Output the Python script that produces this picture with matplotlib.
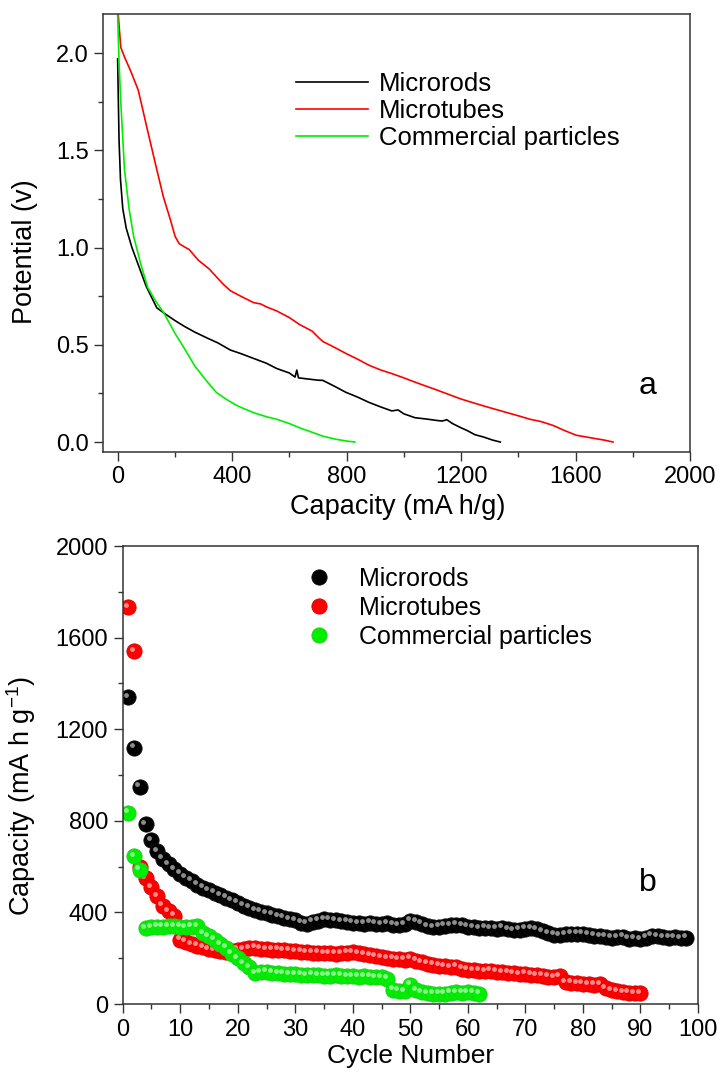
import matplotlib
matplotlib.use("Agg")
import matplotlib.pyplot as plt
import matplotlib.transforms as mtransforms
from matplotlib.ticker import MultipleLocator

plt.rcParams['font.family'] = ['Liberation Sans', 'DejaVu Sans']
plt.rcParams['mathtext.fontset'] = 'custom'
plt.rcParams['mathtext.rm'] = 'Liberation Sans'

# ---- panel a : discharge curves ----
rods_cap = [0, 2, 5, 10, 18, 30, 50, 75, 100, 137, 169, 200, 233, 270, 314, 350, 394, 430,
            475, 520, 556, 600, 620, 626, 632, 660, 700, 717, 760, 797, 840, 878, 920, 958,
            980, 1000, 1039, 1080, 1120, 1135, 1150, 1170, 1200, 1220, 1248, 1280, 1310, 1337]
rods_pot = [1.97, 1.80, 1.55, 1.35, 1.20, 1.10, 1.00, 0.90, 0.80, 0.69, 0.656, 0.625, 0.595,
            0.565, 0.534, 0.51, 0.473, 0.455, 0.43, 0.405, 0.378, 0.355, 0.334, 0.37, 0.33,
            0.325, 0.318, 0.317, 0.285, 0.256, 0.23, 0.204, 0.18, 0.16, 0.165, 0.145, 0.125,
            0.118, 0.11, 0.108, 0.115, 0.095, 0.073, 0.06, 0.038, 0.025, 0.01, 0.0]

tubes_cap = [2, 11, 24, 45, 72, 105, 137, 160, 185, 201, 215, 233, 250, 282, 320, 346, 370,
             394, 430, 475, 500, 520, 556, 600, 636, 680, 700, 717, 760, 797, 840, 878, 920,
             958, 1000, 1039, 1120, 1200, 1280, 1361, 1400, 1441, 1480, 1522, 1560, 1602,
             1660, 1700, 1731]
tubes_pot = [2.2, 2.03, 1.98, 1.91, 1.81, 1.60, 1.40, 1.26, 1.14, 1.057, 1.02, 1.004, 0.99,
             0.935, 0.89, 0.848, 0.81, 0.778, 0.75, 0.717, 0.71, 0.695, 0.674, 0.64, 0.604,
             0.57, 0.54, 0.517, 0.485, 0.456, 0.425, 0.395, 0.37, 0.352, 0.33, 0.308, 0.265,
             0.221, 0.185, 0.151, 0.135, 0.117, 0.105, 0.085, 0.06, 0.035, 0.02, 0.01, 0.0]

part_cap = [0, 5, 11, 24, 40, 56, 80, 105, 135, 161, 200, 233, 270, 314, 345, 378, 420, 475,
            520, 556, 600, 636, 680, 717, 760, 800, 829]
part_pot = [2.2, 1.95, 1.75, 1.40, 1.20, 1.057, 0.92, 0.795, 0.72, 0.665, 0.56, 0.482, 0.39,
            0.308, 0.255, 0.221, 0.185, 0.151, 0.13, 0.117, 0.095, 0.073, 0.05, 0.03, 0.015,
            0.005, 0.0]

# ---- panel b : cycling ----
rods_cyc = [1340, 1120, 948, 785, 715, 668, 635, 610, 588, 570, 552, 538, 522, 508, 497, 486,
            476, 465, 454, 442, 430, 420, 410, 402, 396, 390, 383, 377, 371, 366, 355, 350,
            360, 364, 370, 368, 366, 362, 360, 356, 352, 350, 355, 350, 348, 352, 346, 344,
            348, 364, 360, 350, 340, 336, 338, 342, 345, 347, 343, 338, 336, 332, 334, 330,
            328, 333, 326, 322, 324, 328, 330, 326, 318, 310, 302, 300, 304, 306, 308, 306,
            302, 298, 296, 294, 290, 292, 294, 285, 288, 284, 290, 298, 296, 292, 290, 291,
            288, 290]
tubes_cyc = [1733, 1540, 600, 550, 510, 470, 430, 405, 385, 280, 272, 262, 255, 248, 240, 234,
             230, 228, 232, 238, 240, 244, 246, 242, 240, 238, 236, 234, 232, 230, 228, 226,
             224, 224, 222, 222, 220, 222, 224, 226, 222, 218, 214, 208, 204, 200, 198, 195,
             193, 198, 190, 182, 176, 171, 168, 164, 160, 162, 155, 150, 148, 146, 144, 146,
             142, 138, 136, 134, 130, 132, 128, 126, 124, 120, 116, 122, 96, 92, 90, 88, 86,
             84, 86, 70, 60, 56, 52, 50, 48, 47]
part_cyc = [835, 645, 587, 332, 336, 338, 338, 340, 340, 338, 336, 338, 340, 310, 295, 280,
            262, 245, 220, 200, 178, 160, 135, 138, 140, 136, 134, 132, 130, 130, 128, 126,
            128, 126, 124, 124, 126, 124, 122, 122, 120, 122, 120, 118, 116, 110, 62, 58, 56,
            85, 60, 52, 48, 46, 45, 46, 50, 52, 50, 52, 50, 46]

labels = ['Microrods', 'Microtubes', 'Commercial particles']
colors = ['black', '#ff0000', '#00ee00']
ball_edge = ['#111111', '#dd0000', '#22cc22']

fig = plt.figure(figsize=(7.23, 10.72), dpi=100)
ax1 = fig.add_axes([0.1429, 0.5786, 0.8115, 0.4081])
ax2 = fig.add_axes([0.1697, 0.0634, 0.7957, 0.4272])

ax1.plot(rods_cap, rods_pot, color=colors[0], lw=1.2, label=labels[0])
ax1.plot(tubes_cap, tubes_pot, color=colors[1], lw=1.2, label=labels[1])
ax1.plot(part_cap, part_pot, color=colors[2], lw=1.2, label=labels[2])
ax1.set_xlim(-50, 2000)
ax1.set_ylim(-0.05, 2.2)
ax1.xaxis.set_major_locator(MultipleLocator(400))
ax1.xaxis.set_minor_locator(MultipleLocator(200))
ax1.yaxis.set_major_locator(MultipleLocator(0.5))
ax1.yaxis.set_minor_locator(MultipleLocator(0.25))
ax1.set_xlabel('Capacity (mA h/g)', fontsize=19.5)
ax1.set_ylabel('Potential (v)', fontsize=19.5)
ax1.xaxis.set_label_coords(0.502, -0.097)
ax1.yaxis.set_label_coords(-0.111, 0.457)
ax1.legend(loc='upper left', bbox_to_anchor=(0.329, 0.869), frameon=False, fontsize=18.5,
           handlelength=2.8, handletextpad=0.4, labelspacing=0.12, borderpad=0,
           borderaxespad=0)
ax1.text(1852, 0.29, 'a', fontsize=23, ha='center', va='center')

cyc_sets = [rods_cyc, tubes_cyc, part_cyc]
hl = mtransforms.offset_copy(ax2.transData, fig=fig, x=-1.8, y=1.8, units='points')
for vals, c, ec, lab in zip(cyc_sets, colors, ball_edge, labels):
    n = list(range(1, len(vals) + 1))
    ax2.plot(n, vals, 'o', ms=11, color=c, mec=ec, mew=0.6, label=lab)
    ax2.plot(n, vals, 'o', ms=3.5, color='white', mec='none', alpha=0.55, transform=hl)
ax2.set_xlim(0, 100)
ax2.set_ylim(0, 2000)
ax2.xaxis.set_major_locator(MultipleLocator(10))
ax2.xaxis.set_minor_locator(MultipleLocator(5))
ax2.yaxis.set_major_locator(MultipleLocator(400))
ax2.yaxis.set_minor_locator(MultipleLocator(200))
ax2.set_xlabel('Cycle Number', fontsize=19)
ax2.set_ylabel('Capacity (mA h g$^{-1}$)', fontsize=19.5)
ax2.xaxis.set_label_coords(0.501, -0.088)
ax2.yaxis.set_label_coords(-0.147, 0.454)
ax2.legend(loc='upper left', bbox_to_anchor=(0.32, 0.954), frameon=False, fontsize=18,
           handlelength=1.0, handletextpad=1.1, labelspacing=0.2, borderpad=0,
           borderaxespad=0, numpoints=1)
ax2.text(91.3, 528, 'b', fontsize=23, ha='center', va='center')

for ax in (ax1, ax2):
    for s in ax.spines.values():
        s.set_linewidth(1.1)
        s.set_color('#333333')
    ax.tick_params(which='both', direction='out', top=False, right=False,
                   labelsize=17, width=1.0, color='#333333')
    ax.tick_params(which='major', length=6.5, pad=4)
    ax.tick_params(which='minor', length=3.5)

fig.savefig('out.png', dpi=100)
